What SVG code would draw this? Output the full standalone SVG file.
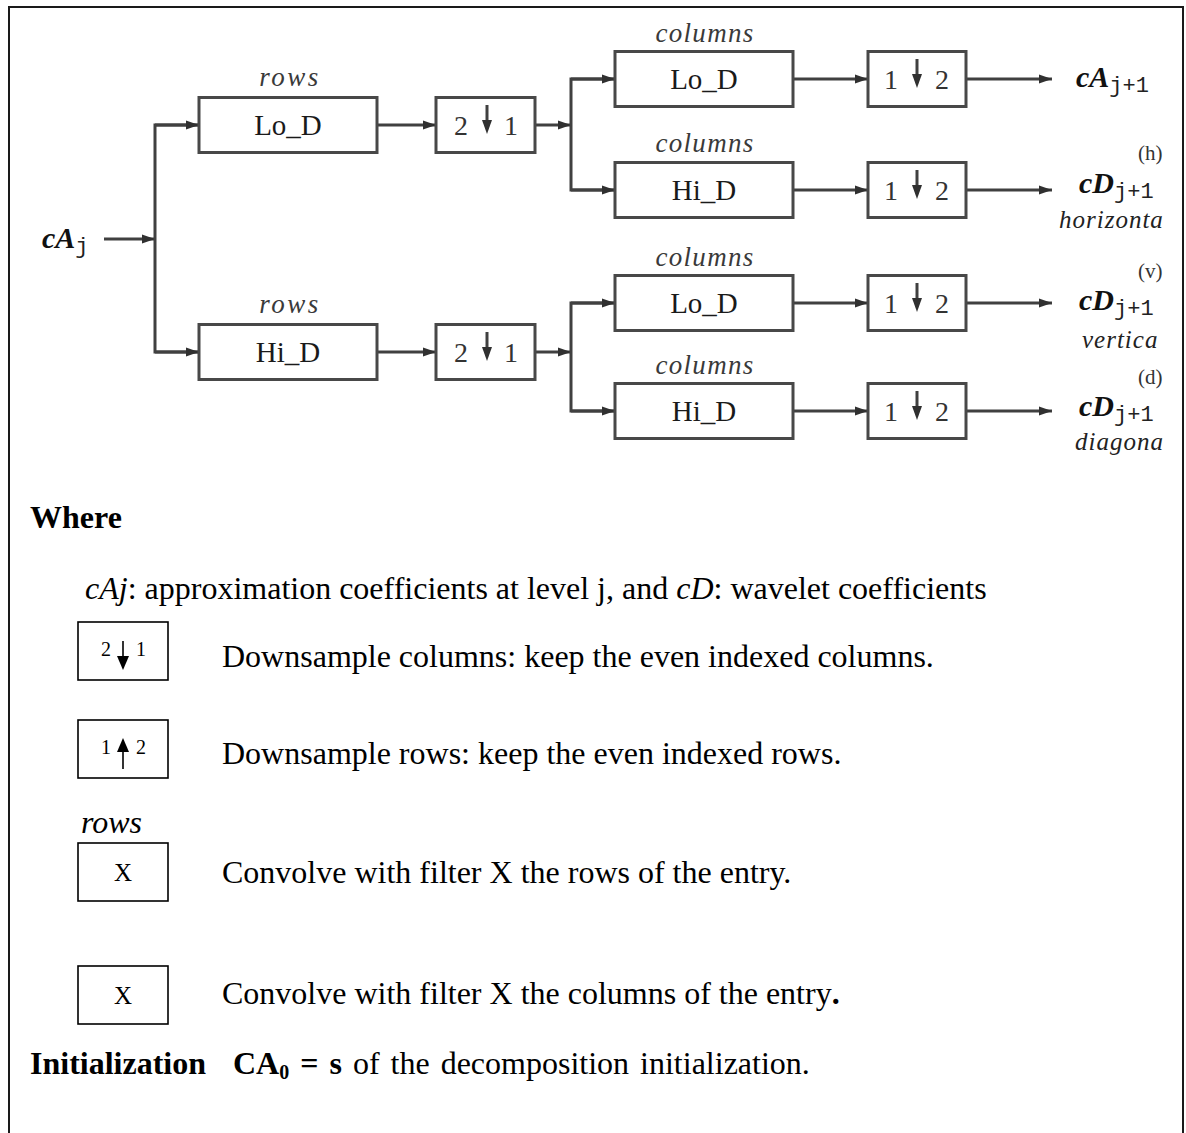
<svg xmlns="http://www.w3.org/2000/svg" width="1186" height="1133" viewBox="0 0 1186 1133">
<style>
.bx{fill:#fff;stroke:#484848;stroke-width:3}
.ln{fill:none;stroke:#404040;stroke-width:3}
.lb{font-family:"Liberation Serif",serif;font-size:29px;fill:#1a1a1a;text-anchor:middle}
.it{font-family:"Liberation Serif",serif;font-style:italic;font-size:27px;fill:#3a3a3a;text-anchor:middle;letter-spacing:1.3px}
.rw{letter-spacing:2.5px}
.dg{font-family:"Liberation Serif",serif;font-size:28px;fill:#333;text-anchor:middle}
.out{font-family:"Liberation Serif",serif;font-weight:bold;font-style:italic;font-size:30px;fill:#111}
.sub{font-family:"Liberation Mono",monospace;font-size:22px;fill:#222}
.sup{font-family:"Liberation Serif",serif;font-size:21px;fill:#333}
.nm{font-family:"Liberation Serif",serif;font-style:italic;font-size:25px;fill:#222;letter-spacing:1px}
.tx{font-family:"Liberation Serif",serif;font-size:32px;fill:#000}
.lbx{fill:#fff;stroke:#000;stroke-width:1.6}
.sm{font-family:"Liberation Serif",serif;font-size:20px;fill:#000;text-anchor:middle}
.xx{font-size:25px}
</style>
<defs>
<marker id="ah" markerUnits="userSpaceOnUse" markerWidth="14" markerHeight="10" refX="13" refY="5" orient="auto">
<path d="M0,0.5 L13,5 L0,9.5 z" fill="#303030"/>
</marker>
</defs>
<rect x="9" y="7" width="1174" height="1160" fill="none" stroke="#1a1a1a" stroke-width="2"/>

<g id="connectors">
<line class="ln" x1="104" y1="239" x2="155" y2="239" marker-end="url(#ah)"/>
<polyline class="ln" points="199,125 155,125 155,352 199,352"/>
<line class="ln" x1="155" y1="125" x2="199" y2="125" marker-end="url(#ah)"/>
<line class="ln" x1="155" y1="352" x2="199" y2="352" marker-end="url(#ah)"/>
<line class="ln" x1="377" y1="125" x2="436" y2="125" marker-end="url(#ah)"/>
<line class="ln" x1="377" y1="352" x2="436" y2="352" marker-end="url(#ah)"/>
<line class="ln" x1="535" y1="125" x2="571" y2="125" marker-end="url(#ah)"/>
<line class="ln" x1="535" y1="352" x2="571" y2="352" marker-end="url(#ah)"/>
<polyline class="ln" points="615,79 571,79 571,190 615,190"/>
<polyline class="ln" points="615,303 571,303 571,411 615,411"/>
<line class="ln" x1="571" y1="79" x2="615" y2="79" marker-end="url(#ah)"/>
<line class="ln" x1="571" y1="190" x2="615" y2="190" marker-end="url(#ah)"/>
<line class="ln" x1="571" y1="303" x2="615" y2="303" marker-end="url(#ah)"/>
<line class="ln" x1="571" y1="411" x2="615" y2="411" marker-end="url(#ah)"/>
<line class="ln" x1="793" y1="79" x2="868" y2="79" marker-end="url(#ah)"/>
<line class="ln" x1="793" y1="190" x2="868" y2="190" marker-end="url(#ah)"/>
<line class="ln" x1="793" y1="303" x2="868" y2="303" marker-end="url(#ah)"/>
<line class="ln" x1="793" y1="411" x2="868" y2="411" marker-end="url(#ah)"/>
<line class="ln" x1="966" y1="79" x2="1052" y2="79" marker-end="url(#ah)"/>
<line class="ln" x1="966" y1="190" x2="1052" y2="190" marker-end="url(#ah)"/>
<line class="ln" x1="966" y1="303" x2="1052" y2="303" marker-end="url(#ah)"/>
<line class="ln" x1="966" y1="411" x2="1052" y2="411" marker-end="url(#ah)"/>
</g>

<g id="input">
<text x="42" y="248" class="out">cA<tspan class="sub" dy="5" font-style="normal" font-weight="normal">j</tspan></text>
</g>

<g id="rows-lo">
<text x="290" y="86" class="it rw">rows</text>
<rect class="bx" x="199" y="97.5" width="178" height="55"/>
<text x="288" y="135" class="lb">Lo_D</text>
</g>
<g id="rows-hi">
<text x="290" y="313" class="it rw">rows</text>
<rect class="bx" x="199" y="324.5" width="178" height="55"/>
<text x="288" y="362" class="lb">Hi_D</text>
</g>
<g id="ds-row-1">
<rect class="bx" x="436" y="97.5" width="99" height="55"/>
<text x="461" y="135" class="dg">2</text><text x="511" y="135" class="dg">1</text>
<line class="ln" x1="487" y1="105" x2="487" y2="122" stroke-width="2.5"/><path d="M482,120 L492,120 L487,134 z" fill="#303030"/>
</g>
<g id="ds-row-2">
<rect class="bx" x="436" y="324.5" width="99" height="55"/>
<text x="461" y="362" class="dg">2</text><text x="511" y="362" class="dg">1</text>
<line class="ln" x1="487" y1="332" x2="487" y2="349" stroke-width="2.5"/><path d="M482,347 L492,347 L487,361 z" fill="#303030"/>
</g>

<g id="col-lo-1">
<text x="705" y="42" class="it">columns</text>
<rect class="bx" x="615" y="51.5" width="178" height="55"/>
<text x="704" y="89" class="lb">Lo_D</text>
</g>
<g id="col-hi-1">
<text x="705" y="152" class="it">columns</text>
<rect class="bx" x="615" y="162.5" width="178" height="55"/>
<text x="704" y="200" class="lb">Hi_D</text>
</g>
<g id="col-lo-2">
<text x="705" y="266" class="it">columns</text>
<rect class="bx" x="615" y="275.5" width="178" height="55"/>
<text x="704" y="313" class="lb">Lo_D</text>
</g>
<g id="col-hi-2">
<text x="705" y="374" class="it">columns</text>
<rect class="bx" x="615" y="383.5" width="178" height="55"/>
<text x="704" y="421" class="lb">Hi_D</text>
</g>

<g id="ds-col-1">
<rect class="bx" x="868" y="51.5" width="98" height="55"/>
<text x="891" y="89" class="dg">1</text><text x="942" y="89" class="dg">2</text>
<line class="ln" x1="917" y1="59" x2="917" y2="76" stroke-width="2.5"/><path d="M912,74 L922,74 L917,88 z" fill="#303030"/>
</g>
<g id="ds-col-2">
<rect class="bx" x="868" y="162.5" width="98" height="55"/>
<text x="891" y="200" class="dg">1</text><text x="942" y="200" class="dg">2</text>
<line class="ln" x1="917" y1="170" x2="917" y2="187" stroke-width="2.5"/><path d="M912,185 L922,185 L917,199 z" fill="#303030"/>
</g>
<g id="ds-col-3">
<rect class="bx" x="868" y="275.5" width="98" height="55"/>
<text x="891" y="313" class="dg">1</text><text x="942" y="313" class="dg">2</text>
<line class="ln" x1="917" y1="283" x2="917" y2="300" stroke-width="2.5"/><path d="M912,298 L922,298 L917,312 z" fill="#303030"/>
</g>
<g id="ds-col-4">
<rect class="bx" x="868" y="383.5" width="98" height="55"/>
<text x="891" y="421" class="dg">1</text><text x="942" y="421" class="dg">2</text>
<line class="ln" x1="917" y1="391" x2="917" y2="408" stroke-width="2.5"/><path d="M912,406 L922,406 L917,420 z" fill="#303030"/>
</g>

<g id="out-ca">
<text x="1076" y="87" class="out">cA<tspan class="sub" dy="5" font-style="normal" font-weight="normal">j+1</tspan></text>
</g>
<g id="out-h">
<text x="1138" y="160" class="sup">(h)</text>
<text x="1079" y="193" class="out">cD<tspan class="sub" dy="5" font-style="normal" font-weight="normal">j+1</tspan></text>
<text x="1059" y="228" class="nm">horizonta</text>
</g>
<g id="out-v">
<text x="1138" y="278" class="sup">(v)</text>
<text x="1079" y="310" class="out">cD<tspan class="sub" dy="5" font-style="normal" font-weight="normal">j+1</tspan></text>
<text x="1082" y="348" class="nm">vertica</text>
</g>
<g id="out-d">
<text x="1138" y="384" class="sup">(d)</text>
<text x="1079" y="416" class="out">cD<tspan class="sub" dy="5" font-style="normal" font-weight="normal">j+1</tspan></text>
<text x="1075" y="450" class="nm">diagona</text>
</g>

<g id="legend">
<text x="30" y="528" class="tx" font-weight="bold">Where</text>
<text x="85" y="599" class="tx"><tspan font-style="italic">cAj</tspan>: approximation coefficients at level j, and <tspan font-style="italic">cD</tspan>: wavelet coefficients</text>
<rect class="lbx" x="78" y="622" width="90" height="58"/>
<text x="106" y="656" class="sm">2</text><text x="141" y="656" class="sm">1</text>
<line x1="123" y1="641" x2="123" y2="660" stroke="#000" stroke-width="1.6"/><path d="M117,656 L129,656 L123,670 z" fill="#000"/>
<text x="222" y="667" class="tx">Downsample columns: keep the even indexed columns.</text>
<rect class="lbx" x="78" y="720" width="90" height="58"/>
<text x="106" y="754" class="sm">1</text><text x="141" y="754" class="sm">2</text>
<line x1="123" y1="750" x2="123" y2="769" stroke="#000" stroke-width="1.6"/><path d="M117,752 L129,752 L123,738 z" fill="#000"/>
<text x="222" y="764" class="tx">Downsample rows: keep the even indexed rows.</text>
<text x="81" y="833" class="tx" font-style="italic">rows</text>
<rect class="lbx" x="78" y="843" width="90" height="58"/>
<text x="123" y="881" class="sm xx">X</text>
<text x="222" y="883" class="tx">Convolve with filter X the rows of the entry.</text>
<rect class="lbx" x="78" y="966" width="90" height="58"/>
<text x="123" y="1004" class="sm xx">X</text>
<text x="222" y="1004" class="tx">Convolve with filter X the columns of the entry<tspan font-weight="bold">.</tspan></text>
<text x="30" y="1074" class="tx" font-weight="bold">Initialization</text>
<text x="233" y="1074" class="tx" word-spacing="3"><tspan font-weight="bold">CA<tspan font-size="20" dy="5">0</tspan><tspan dy="-5"> = s</tspan></tspan> of the decomposition initialization.</text>
</g>
</svg>
